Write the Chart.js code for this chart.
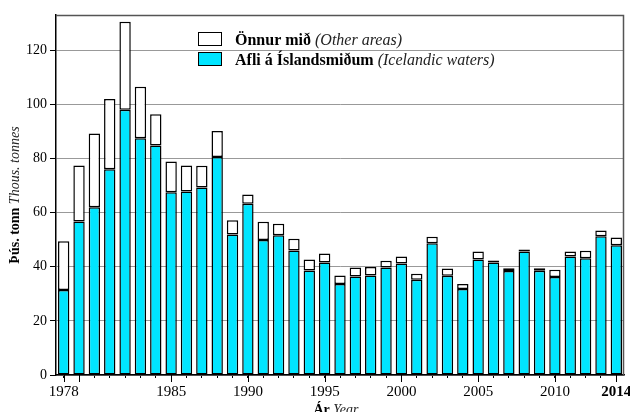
<!DOCTYPE html>
<html>
<head>
<meta charset="utf-8">
<script src="https://cdn.jsdelivr.net/npm/chart.js@4.4.0/dist/chart.umd.min.js"></script>
<style>
  body { margin: 0; background: #fff; }
  canvas { display: block; }
</style>
</head>
<body>
<canvas id="catchChart" width="630" height="412"></canvas>
<script>
// years on the x axis
var years = ['1978','1979','1980','1981','1982','1983','1984','1985','1986','1987',
             '1988','1989','1990','1991','1992','1993','1994','1995','1996','1997',
             '1998','1999','2000','2001','2002','2003','2004','2005','2006','2007',
             '2008','2009','2010','2011','2012','2013','2014'];

// catch in Icelandic waters (thous. tonnes)
var icelandic = [31.4, 56.7, 62.0, 76.0, 98.0, 87.5, 84.8, 67.5, 67.8, 69.3,
                 80.5, 51.9, 63.3, 49.9, 51.6, 46.0, 38.6, 41.6, 33.6, 36.4,
                 36.8, 39.7, 41.2, 35.2, 48.7, 36.7, 31.8, 42.7, 41.6, 38.4,
                 45.6, 38.5, 36.2, 43.8, 43.1, 51.3, 47.9];

// catch in other areas (thous. tonnes)
var otherAreas = [18.0, 20.7, 27.2, 26.0, 32.5, 19.0, 11.5, 11.4, 9.6, 8.0,
                  9.6, 5.3, 3.4, 6.7, 4.3, 4.3, 4.1, 3.3, 3.2, 3.3,
                  3.1, 2.5, 2.6, 2.2, 2.4, 2.6, 1.8, 2.9, 0.7, 1.0,
                  0.8, 0.9, 2.7, 1.8, 2.8, 2.1, 2.9];

// which years get a label, and which get a long tick
var tickLabels = ['1978','1985','1990','1995','2000','2005','2010','2014'];
var longTicks = ['1978','1979','1985','1990','1995','2000','2005','2010','2014'];

var serif = "'Liberation Serif', 'DejaVu Serif', serif";

// draws the frame, long ticks, legend and the two-style axis titles
var extras = {
    id: 'extras',
    beforeDatasetsDraw: function(chart) {
        var ctx = chart.ctx, a = chart.chartArea;
        ctx.save();
        ctx.strokeStyle = '#555';
        ctx.lineWidth = 1.5;
        ctx.beginPath();
        ctx.moveTo(a.left, a.top + 0.5);
        ctx.lineTo(a.right - 0.5, a.top + 0.5);
        ctx.lineTo(a.right - 0.5, a.bottom);
        ctx.stroke();
        ctx.restore();
    },
    afterDraw: function(chart) {
        var ctx = chart.ctx, a = chart.chartArea;
        var xs = chart.scales.x;
        ctx.save();

        // long ticks
        ctx.strokeStyle = '#000';
        ctx.lineWidth = 1;
        years.forEach(function(y, i) {
            if (longTicks.indexOf(y) >= 0) {
                var px = Math.round(xs.getPixelForValue(i)) + 0.5;
                ctx.beginPath();
                ctx.moveTo(px, a.bottom);
                ctx.lineTo(px, a.bottom + 7);
                ctx.stroke();
            }
        });

        // legend
        var items = [
            { fill: '#ffffff', bold: 'Önnur mið ', ital: '(Other areas)' },
            { fill: '#00e5ff', bold: 'Afli á Íslandsmiðum ', ital: '(Icelandic waters)' }
        ];
        var lx = a.left + 142, ly = a.top + 17;
        items.forEach(function(it, k) {
            var y = ly + k * 20;
            ctx.fillStyle = it.fill;
            ctx.fillRect(lx, y, 24, 14);
            ctx.strokeStyle = '#000';
            ctx.lineWidth = 1;
            ctx.strokeRect(lx + 0.5, y + 0.5, 23, 13);
            ctx.fillStyle = '#000';
            ctx.textBaseline = 'alphabetic';
            ctx.textAlign = 'left';
            ctx.font = 'bold 16px ' + serif;
            ctx.fillText(it.bold, lx + 37, y + 13);
            var w = ctx.measureText(it.bold).width;
            ctx.fillStyle = '#222';
            ctx.font = 'italic 16px ' + serif;
            ctx.fillText(it.ital, lx + 37 + w, y + 13);
        });

        // x title
        ctx.font = 'bold 14px ' + serif;
        var b1 = 'Ár ';
        var w1 = ctx.measureText(b1).width;
        ctx.font = 'italic 14px ' + serif;
        var i1 = 'Year';
        var w2 = ctx.measureText(i1).width;
        var cx = (a.left + a.right) / 2 - (w1 + w2) / 2 - 4;
        ctx.fillStyle = '#000';
        ctx.font = 'bold 14px ' + serif;
        ctx.fillText(b1, cx, 414);
        ctx.fillStyle = '#222';
        ctx.font = 'italic 14px ' + serif;
        ctx.fillText(i1, cx + w1, 414);

        // y title (rotated)
        ctx.translate(19, 195);
        ctx.rotate(-Math.PI / 2);
        ctx.font = 'bold 14px ' + serif;
        var b2 = 'Þús. tonn ';
        var w3 = ctx.measureText(b2).width;
        ctx.font = 'italic 14px ' + serif;
        var i2 = 'Thous. tonnes';
        var w4 = ctx.measureText(i2).width;
        var sx = -(w3 + w4) / 2;
        ctx.fillStyle = '#000';
        ctx.font = 'bold 14px ' + serif;
        ctx.fillText(b2, sx, 0);
        ctx.fillStyle = '#222';
        ctx.font = 'italic 14px ' + serif;
        ctx.fillText(i2, sx + w3, 0);

        ctx.restore();
    }
};

var chart = new Chart(document.getElementById('catchChart'), {
    type: 'bar',
    data: {
        labels: years,
        datasets: [
            {
                label: 'Afli á Íslandsmiðum (Icelandic waters)',
                data: icelandic,
                backgroundColor: '#00e5ff',
                borderColor: '#000',
                borderWidth: 1.5,
                borderSkipped: false,
                barPercentage: 0.74,
                categoryPercentage: 1.0
            },
            {
                label: 'Önnur mið (Other areas)',
                data: otherAreas,
                backgroundColor: '#ffffff',
                borderColor: '#000',
                borderWidth: 1.5,
                borderSkipped: false,
                barPercentage: 0.74,
                categoryPercentage: 1.0
            }
        ]
    },
    options: {
        responsive: false,
        animation: false,
        devicePixelRatio: 1,
        layout: { padding: { top: 15, right: 6, left: 0, bottom: 0 } },
        plugins: {
            legend: { display: false },
            tooltip: { enabled: false }
        },
        scales: {
            x: {
                stacked: true,
                offset: true,
                afterFit: function(s) {
                    s.height = 37;
                    s.paddingLeft = 0;
                    s.paddingRight = 0;
                },
                border: { color: '#000', width: 1.5 },
                grid: {
                    offset: false,
                    drawOnChartArea: false,
                    drawTicks: true,
                    tickLength: 3,
                    color: '#000'
                },
                ticks: {
                    autoSkip: false,
                    maxRotation: 0,
                    padding: 5,
                    color: '#000',
                    font: function(c) {
                        return {
                            family: serif,
                            size: 15,
                            weight: c.index === years.length - 1 ? 'bold' : 'normal'
                        };
                    },
                    callback: function(v, i) {
                        return tickLabels.indexOf(years[i]) >= 0 ? years[i] : '';
                    }
                }
            },
            y: {
                stacked: true,
                min: 0,
                max: 133,
                afterFit: function(s) { s.width = 56; },
                afterBuildTicks: function(s) {
                    s.ticks = s.ticks.filter(function(t) { return t.value % 20 === 0; });
                },
                border: { color: '#000', width: 1.5 },
                grid: {
                    color: '#999',
                    lineWidth: 1,
                    tickColor: '#000',
                    tickLength: 6
                },
                ticks: {
                    stepSize: 20,
                    padding: 3,
                    color: '#000',
                    font: { family: serif, size: 14 }
                }
            }
        }
    },
    plugins: [extras]
});
</script>
</body>
</html>
